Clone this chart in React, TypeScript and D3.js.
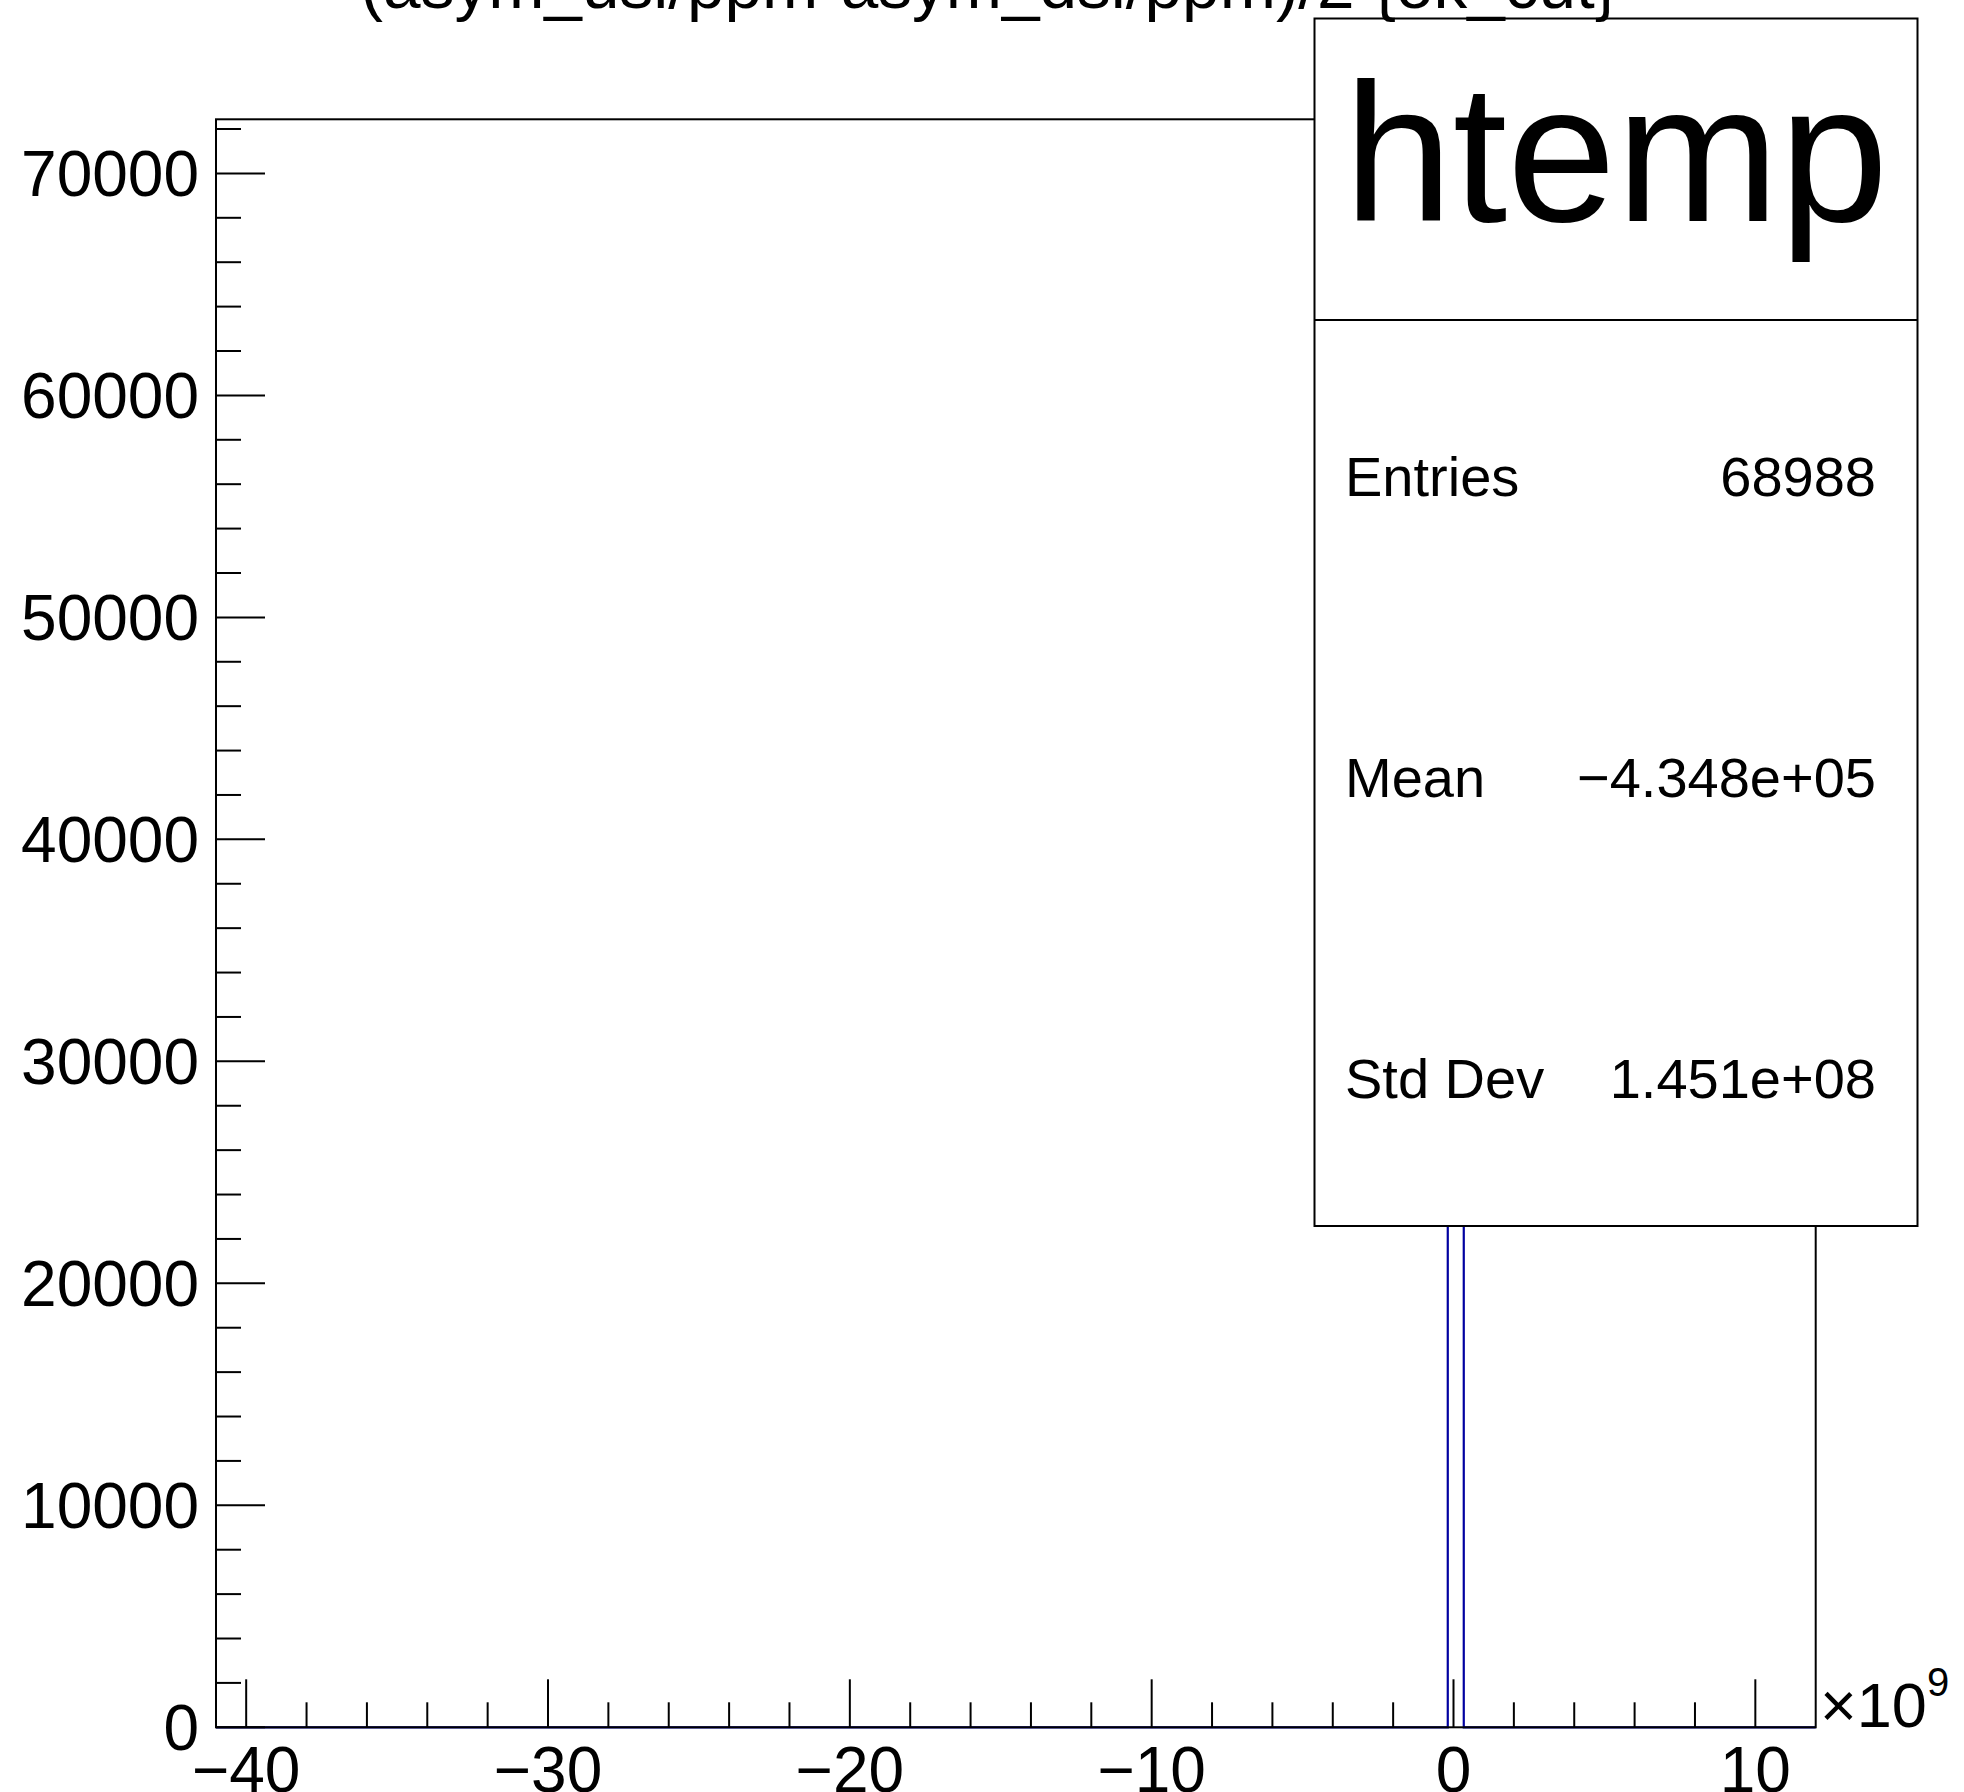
import React from 'react';
import * as d3 from 'd3';

// ---- data (x in units of 1e9) ----
const titleText = "(asym_usl/ppm-asym_dsl/ppm)/2 {ok_cut}";
const histName = "htemp";
const xDomain = [-41.0, 12.0];
const binLow = [-0.19];
const binHigh = [0.34];
const binCount = [68988];
const xMajorTicks = [-40, -30, -20, -10, 0, 10];
const xTickLabels = ["\u221240", "\u221230", "\u221220", "\u221210", "0", "10"];
const yMajorTicks = [0, 10000, 20000, 30000, 40000, 50000, 60000, 70000];
const yTickLabels = ["0", "10000", "20000", "30000", "40000", "50000", "60000", "70000"];
const statLabels = ["Entries", "Mean", "Std Dev"];
const statValues = ["68988", "\u22124.348e+05", "1.451e+08"];

const FONT = "'Liberation Sans', Arial, Helvetica, sans-serif";

export default function App() {
  const W = 1964, H = 1792;
  const fx0 = 216, fx1 = 1815.7, fy0 = 119.3, fy1 = 1727.3;
  const yMax = (d3.max(binCount) as number) * 1.05;
  const x = d3.scaleLinear().domain(xDomain).range([fx0, fx1]);
  const y = d3.scaleLinear().domain([0, yMax]).range([fy1, fy0]);

  const xMinor = d3.range(-40, xDomain[1], 2).filter(v => !xMajorTicks.includes(v));
  const yMinor = d3.range(0, yMax, 2000).filter(v => !yMajorTicks.includes(v));

  // histogram step outline
  const pts: [number, number][] = [[xDomain[0], 0]];
  binLow.forEach((lo, i) => {
    pts.push([lo, 0], [lo, binCount[i]], [binHigh[i], binCount[i]], [binHigh[i], 0]);
  });
  pts.push([xDomain[1], 0]);
  const line = d3.line<[number, number]>().x(d => x(d[0])).y(d => y(d[1]));

  // stats box
  const sx0 = 1314.5, sx1 = 1917.5, sy0 = 18.5, sy1 = 1226, sDiv = 320;
  const rowBase = [496, 797, 1098];

  return (
    <svg width={W} height={H} style={{ position: 'absolute', left: 0, top: 0, background: '#fff' }}
      fontFamily={FONT}>
      <rect x={0} y={0} width={W} height={H} fill="#fff" />
      {/* histogram */}
      <path d={line(pts) || ''} fill="none" stroke="#0000a0" strokeWidth={2.2} />
      {/* frame */}
      <rect x={fx0} y={fy0} width={fx1 - fx0} height={fy1 - fy0} fill="none" stroke="#000" strokeWidth={2} />
      {/* x ticks */}
      {xMajorTicks.map(v => (
        <line key={'xM' + v} x1={x(v)} x2={x(v)} y1={fy1} y2={fy1 - 48} stroke="#000" strokeWidth={2} />
      ))}
      {xMinor.map(v => (
        <line key={'xm' + v} x1={x(v)} x2={x(v)} y1={fy1} y2={fy1 - 25} stroke="#000" strokeWidth={2} />
      ))}
      {xMajorTicks.map((v, i) => (
        <text key={'xl' + v} x={x(v)} y={1792} fontSize={64} textAnchor="middle" fill="#000">{xTickLabels[i]}</text>
      ))}
      {/* y ticks */}
      {yMajorTicks.map(v => (
        <line key={'yM' + v} x1={fx0} x2={fx0 + 49} y1={y(v)} y2={y(v)} stroke="#000" strokeWidth={2} />
      ))}
      {yMinor.map(v => (
        <line key={'ym' + v} x1={fx0} x2={fx0 + 25} y1={y(v)} y2={y(v)} stroke="#000" strokeWidth={2} />
      ))}
      {yMajorTicks.map((v, i) => (
        <text key={'yl' + v} x={199} y={y(v) + 23} fontSize={64} textAnchor="end" fill="#000">{yTickLabels[i]}</text>
      ))}
      {/* exponent label */}
      <text x={1820} y={1727} fontSize={63} fill="#000">
        {"\u00d710"}
      </text>
      <text x={1927} y={1696} fontSize={40} fill="#000">9</text>
      {/* stats box */}
      <rect x={sx0} y={sy0} width={sx1 - sx0} height={sy1 - sy0} fill="#fff" stroke="#000" strokeWidth={2} />
      <line x1={sx0} x2={sx1} y1={sDiv} y2={sDiv} stroke="#000" strokeWidth={2} />
      <text x={(sx0 + sx1) / 2} y={221} fontSize={196} textAnchor="middle" fill="#000">{histName}</text>
      {statLabels.map((s, i) => (
        <text key={'sl' + i} x={1345} y={rowBase[i]} fontSize={56} fill="#000">{s}</text>
      ))}
      {statValues.map((s, i) => (
        <text key={'sv' + i} x={1876} y={rowBase[i]} fontSize={56} textAnchor="end" fill="#000">{s}</text>
      ))}
      {/* title */}
      <text x={989} y={8} fontSize={67.5} textAnchor="middle" fill="#000">{titleText}</text>
    </svg>
  );
}
